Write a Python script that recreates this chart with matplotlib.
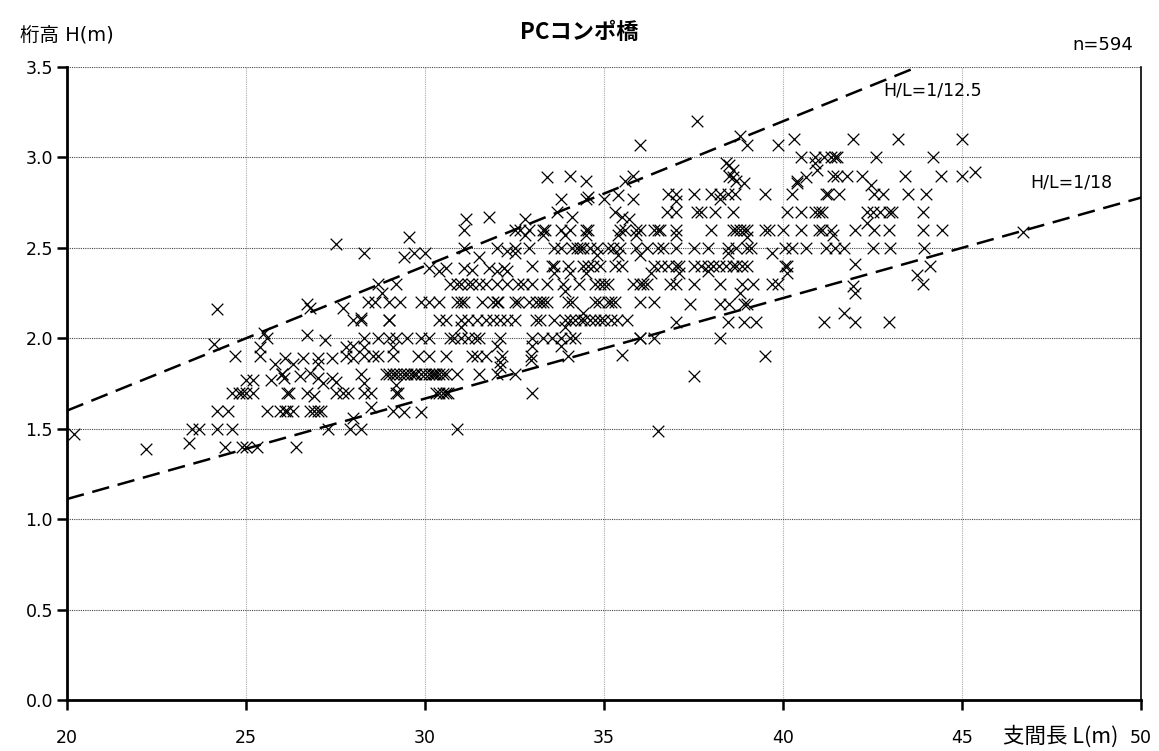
import matplotlib
matplotlib.use("Agg")
import matplotlib.pyplot as plt
import numpy as np

plt.rcParams['font.family'] = ['DejaVu Sans', 'Noto Sans CJK JP']

# ---- span length L (m) and girder height H (m), grouped roughly by height rows ----
L_left = [20.2, 22.2, 23.4, 23.5, 23.7]
H_left = [1.47, 1.39, 1.42, 1.50, 1.50]

L_a = [27.5, 28.3, 24.2, 26.7, 26.8, 27.7, 28.0, 28.2,
       24.1, 25.5, 25.6, 26.7, 27.2, 25.4, 24.7, 25.4, 25.8, 26.1, 26.3, 26.6, 27.0, 27.0, 27.4,
       27.8, 28.0, 27.8, 28.0, 28.3,
       25.0, 25.2, 25.7, 26.0, 26.0, 26.05, 26.5, 26.8, 27.0, 27.15, 27.4, 27.5, 28.3,
       24.6, 24.8, 24.9, 25.0, 25.2, 26.15, 26.2, 26.7, 26.9, 27.5, 27.7, 27.85,
       24.2, 24.5, 25.6, 25.95, 26.1, 26.15, 26.3, 26.8, 26.9, 27.0, 27.1,
       24.2, 24.6, 27.3, 28.0, 27.9, 28.2,
       24.4, 24.9, 25.0, 25.3, 26.4]
H_a = [2.52, 2.47, 2.16, 2.19, 2.17, 2.17, 2.10, 2.11,
       1.97, 2.03, 2.00, 2.02, 1.99, 1.95, 1.90, 1.90, 1.86, 1.89, 1.86, 1.89, 1.89, 1.86, 1.89,
       1.95, 1.96, 1.90, 1.89, 1.95,
       1.77, 1.77, 1.77, 1.80, 1.80, 1.78, 1.79, 1.81, 1.78, 1.75, 1.78, 1.76, 1.75,
       1.70, 1.70, 1.70, 1.70, 1.70, 1.70, 1.70, 1.70, 1.68, 1.70, 1.70, 1.70,
       1.60, 1.60, 1.60, 1.60, 1.60, 1.60, 1.60, 1.60, 1.60, 1.60, 1.60,
       1.50, 1.50, 1.50, 1.56, 1.50, 1.50,
       1.40, 1.40, 1.40, 1.40, 1.40]

L_b = [31.15, 31.8, 31.1, 29.55, 29.4, 29.7, 30.0, 31.1, 31.5, 32.0, 32.3, 32.5,
       30.1, 30.4, 30.6, 31.1, 31.3, 31.8, 32.0, 32.2, 32.3,
       28.7, 29.2, 28.8, 30.7, 30.9, 31.0, 31.2, 31.3, 31.5, 31.7, 32.0, 32.3, 32.6]
H_b = [2.66, 2.67, 2.60, 2.56, 2.45, 2.47, 2.47, 2.50, 2.45, 2.50, 2.48, 2.47,
       2.39, 2.37, 2.39, 2.39, 2.38, 2.39, 2.37, 2.39, 2.37,
       2.30, 2.30, 2.25, 2.30, 2.30, 2.30, 2.30, 2.30, 2.30, 2.30, 2.30, 2.30, 2.30]

L_c22 = [28.4, 28.6, 29.0, 29.3, 29.9, 30.1, 30.4, 30.9, 31.0, 31.1, 31.6, 31.9, 32.0, 32.05, 32.5, 32.6]
L_c21 = [28.2, 29.0, 29.0, 30.4, 30.6, 31.0, 31.2, 31.45, 31.7, 31.9, 32.1, 32.3, 32.5]
L_c20 = [28.3, 28.7, 29.0, 29.2, 29.5, 29.9, 30.1, 30.7, 30.8, 31.0, 31.2, 31.4, 31.5, 32.1]
L_c19 = [28.3, 28.55, 28.7, 29.1, 29.8, 30.1, 30.6, 31.3, 31.45, 31.7, 32.15]
L_c18 = [28.2, 28.9, 29.0, 29.1, 29.2, 29.3, 29.4, 29.5, 29.6, 29.7, 29.75, 29.9, 30.0, 30.1,
         30.2, 30.25, 30.3, 30.4, 30.5, 30.6, 30.9, 31.5, 32.0, 32.5]
L_c17 = [28.3, 28.5, 29.2, 29.25, 30.3, 30.4, 30.5, 30.6, 30.65]
L_c_misc = [31.0, 32.0, 29.1, 32.1, 32.1, 29.2, 28.5, 29.1, 29.4, 29.9, 30.9]
H_c_misc = [2.06, 1.96, 1.95, 1.87, 1.84, 1.74, 1.62, 1.60, 1.59, 1.59, 1.50]

L_d = [36.0, 33.4, 34.05, 34.5, 35.8, 35.6, 33.8, 34.5, 34.55, 35.0, 35.4, 35.8,
       33.7, 34.1, 32.8, 35.3, 35.5, 35.7]
H_d = [3.07, 2.89, 2.90, 2.87, 2.90, 2.87, 2.77, 2.77, 2.78, 2.77, 2.79, 2.77,
       2.70, 2.67, 2.66, 2.70, 2.67, 2.66]
L_d26 = [32.5, 32.65, 32.9, 33.3, 33.35, 33.8, 34.05, 34.5, 34.55, 35.45, 35.6, 35.9, 36.0, 36.4, 36.5]
L_d257 = [32.8, 33.3, 33.9, 34.5, 35.4, 35.9]
L_d25 = [32.5, 32.9, 33.6, 33.8, 34.1, 34.25, 34.33, 34.4, 34.6, 34.8, 35.1, 35.25, 35.45, 35.9, 36.2, 36.5]
L_d246 = [34.8, 35.4, 36.0]
L_d24 = [33.0, 33.55, 33.6, 34.0, 34.4, 34.55, 34.7, 34.9, 35.3, 35.5, 36.4]
L_d236 = [33.6, 34.05, 34.5, 36.3]
L_d23 = [32.75, 33.0, 33.4, 33.85, 34.3, 34.75, 34.9, 35.0, 35.1, 35.8, 36.0, 36.1, 36.2]
L_e22 = [32.9, 33.1, 33.2, 33.3, 33.4, 34.0, 34.1, 34.75, 34.85, 35.1, 35.2, 35.3, 36.0, 36.4]
L_e21 = [33.1, 33.2, 33.6, 33.9, 34.05, 34.2, 34.35, 34.45, 34.6, 34.75, 34.9, 35.0, 35.2, 35.35, 35.65]
L_e20 = [33.0, 33.3, 33.55, 33.8, 34.05, 34.2, 36.0, 36.0, 36.4]
L_e_misc = [33.9, 34.4, 33.9, 33.0, 33.8, 32.95, 32.95, 34.0, 35.5, 33.0, 36.5]
H_e_misc = [2.26, 2.14, 2.06, 1.96, 1.96, 1.90, 1.88, 1.90, 1.91, 1.70, 1.49]

L_f = [37.6, 38.8, 39.0, 39.85, 40.3,
       38.4, 38.5, 38.6, 38.5, 38.6, 38.7, 38.9,
       40.5, 40.9, 40.9, 41.15, 40.95, 40.65, 40.4, 40.4,
       37.0, 38.25, 37.0, 39.0, 38.45, 39.7, 37.9, 37.1, 40.1]
H_f = [3.20, 3.12, 3.07, 3.07, 3.10,
       2.97, 2.96, 2.93, 2.90, 2.89, 2.87, 2.86,
       3.00, 3.00, 2.97, 3.00, 2.93, 2.89, 2.87, 2.86,
       2.76, 2.77, 2.57, 2.56, 2.47, 2.47, 2.37, 2.36, 2.36]
L_f28 = [36.8, 37.0, 37.5, 38.0, 38.25, 38.45, 38.65, 39.5, 40.25, 41.2]
L_f27 = [36.75, 37.0, 37.6, 37.7, 38.1, 38.6, 40.1, 40.5, 40.9, 41.0]
L_f26 = [36.55, 37.0, 38.0, 38.6, 38.7, 38.8, 38.9, 39.0, 39.5, 39.6, 40.0, 40.5, 41.0, 41.1]
L_f25 = [36.65, 37.0, 37.5, 37.9, 38.45, 38.7, 39.0, 39.1, 40.05, 40.25, 40.65, 41.2]
L_f24 = [36.6, 36.8, 37.0, 37.1, 37.5, 37.7, 37.9, 38.05, 38.2, 38.4, 38.6, 38.7, 38.85, 39.0, 40.05, 40.1]
L_f23 = [36.85, 37.0, 37.5, 38.25, 38.85, 39.15, 39.7, 39.85]
L_f219 = [37.4, 38.25, 38.5, 38.9, 39.0]
L_f209 = [37.0, 38.45, 38.9, 39.25, 41.15]
L_f_misc = [38.8, 38.25, 39.5, 37.5]
H_f_misc = [2.25, 2.00, 1.90, 1.79]

L_g = [41.95, 43.2, 42.45, 42.35, 41.4, 42.0, 44.1, 43.75, 43.9, 41.95, 42.0,
       41.7, 42.0, 42.95, 45.0, 45.0, 45.35, 46.7]
H_g = [3.10, 3.10, 2.85, 2.64, 2.57, 2.41, 2.40, 2.35, 2.30, 2.29, 2.25,
       2.14, 2.09, 2.09, 3.10, 2.90, 2.92, 2.59]
L_g30 = [41.35, 41.45, 41.5, 42.6, 44.2]
L_g29 = [41.4, 41.5, 41.8, 42.2, 43.4, 44.4]
L_g28 = [41.25, 41.55, 42.55, 42.8, 43.5, 44.0]
L_g27 = [41.1, 42.35, 42.5, 42.7, 42.95, 43.05, 43.9]
L_g26 = [41.35, 42.0, 42.55, 42.95, 43.9, 44.45]
L_g25 = [41.45, 41.7, 42.5, 43.0, 43.95]

# rows that share one height value
rows = [
    (L_c22, 2.20), (L_c21, 2.10), (L_c20, 2.00), (L_c19, 1.90), (L_c18, 1.80), (L_c17, 1.70),
    (L_d26, 2.60), (L_d257, 2.57), (L_d25, 2.50), (L_d246, 2.46), (L_d24, 2.40),
    (L_d236, 2.36), (L_d23, 2.30),
    (L_e22, 2.20), (L_e21, 2.10), (L_e20, 2.00),
    (L_f28, 2.80), (L_f27, 2.70), (L_f26, 2.60), (L_f25, 2.50), (L_f24, 2.40), (L_f23, 2.30),
    (L_f219, 2.19), (L_f209, 2.09),
    (L_g30, 3.00), (L_g29, 2.90), (L_g28, 2.80), (L_g27, 2.70), (L_g26, 2.60), (L_g25, 2.50),
]
pairs = [(L_left, H_left), (L_a, H_a), (L_b, H_b), (L_c_misc, H_c_misc), (L_d, H_d),
         (L_e_misc, H_e_misc), (L_f, H_f), (L_f_misc, H_f_misc), (L_g, H_g)]

span = []
height = []
for ls, hs in pairs:
    span += ls
    height += hs
for ls, h in rows:
    span += ls
    height += [h] * len(ls)

# reference ratio lines H/L
ratios = [1 / 12.5, 1 / 18]
ratio_labels = ["H/L=1/12.5", "H/L=1/18"]

fig = plt.figure(figsize=(11.59, 7.51), dpi=100)
ax = fig.add_axes([0.0578, 0.0679, 0.9267, 0.8429])

ax.scatter(span, height, marker='x', s=70, c='black', linewidths=0.9, zorder=3)

xs = np.array([20, 50])
for r in ratios:
    ax.plot(xs, xs * r, color='black', lw=1.8, dashes=(7, 3.5), zorder=2)

ax.text(42.8, 3.37, ratio_labels[0], fontsize=12.5, ha='left', va='center')
ax.text(46.9, 2.86, ratio_labels[1], fontsize=12.5, ha='left', va='center')

ax.set_xlim(20, 50)
ax.set_ylim(0, 3.5)
ax.set_xticks(np.arange(20, 51, 5))
ax.set_yticks(np.arange(0, 3.51, 0.5))
ax.set_yticklabels([f"{v:.1f}" for v in np.arange(0, 3.51, 0.5)])

ax.spines['top'].set_visible(False)
ax.spines['right'].set_linewidth(1.2)
ax.spines['right'].set_color('black')
for s in ['left', 'bottom']:
    ax.spines[s].set_linewidth(2)
    ax.spines[s].set_color('black')

ax.tick_params(axis='both', direction='out', length=7, width=1.8, labelsize=12.5)
ax.tick_params(axis='y', pad=3)
ax.tick_params(axis='x', pad=14)

ax.yaxis.grid(True, color='#444444', linestyle=(0, (1, 1)), linewidth=0.8)
ax.xaxis.grid(True, color='#aaaaaa', linestyle=(0, (1, 1)), linewidth=0.8)
ax.set_axisbelow(True)

fig.text(0.5, 0.957, "PCコンポ橋", fontsize=16, fontweight='bold', ha='center', va='center',
         family=['Noto Sans CJK JP'])
fig.text(0.017, 0.953, "桁高 H(m)", fontsize=14, ha='left', va='center')
fig.text(0.978, 0.94, "n=594", fontsize=13, ha='right', va='center')
fig.text(0.865, 0.019, "支間長 L(m)", fontsize=15.5, ha='left', va='center',
         family=['Noto Sans CJK JP'])

fig.savefig("out.png", dpi=100)
